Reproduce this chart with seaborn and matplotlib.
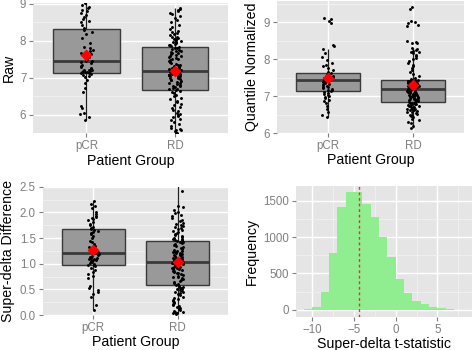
import numpy as np
import pandas as pd
import matplotlib
matplotlib.use("Agg")
import matplotlib.pyplot as plt
import seaborn as sns
from matplotlib.ticker import FixedLocator, FormatStrFormatter

# ---------------- data ----------------
groups = ["pCR", "RD"]

raw_pcr = [5.86, 5.95, 6.02, 6.05, 6.18, 6.25, 6.62, 6.72, 6.85, 6.95, 7.02, 7.06, 7.09, 7.11, 7.12, 7.13,
           7.15, 7.16, 7.17, 7.18, 7.19, 7.2, 7.21, 7.22, 7.24, 7.27, 7.3, 7.33, 7.36, 7.4, 7.44, 7.46,
           7.47, 7.52, 7.57, 7.6, 7.62, 7.65, 7.68, 7.72, 7.75, 7.8, 7.84, 7.95, 8.08, 8.2, 8.25, 8.3,
           8.35, 8.42, 8.5, 8.55, 8.6, 8.64, 8.7, 8.76, 8.8, 8.84, 8.88, 8.92, 8.96, 9.02, 9.1, 9.15]
raw_rd = [5.4, 5.5, 5.52, 5.55, 5.58, 5.6, 5.62, 5.65, 5.7, 5.75, 5.8, 5.85, 5.9, 5.93, 5.96, 6.0, 6.03,
          6.06, 6.1, 6.14, 6.18, 6.22, 6.26, 6.3, 6.34, 6.38, 6.42, 6.46, 6.5, 6.54, 6.58, 6.62, 6.65,
          6.67, 6.69, 6.71, 6.73, 6.75, 6.77, 6.79, 6.81, 6.83, 6.85, 6.87, 6.89, 6.91, 6.93, 6.95, 6.97,
          6.99, 7.01, 7.02, 7.03, 7.04, 7.05, 7.06, 7.07, 7.08, 7.09, 7.1, 7.11, 7.12, 7.13, 7.14, 7.15, 7.17,
          7.18, 7.2, 7.22, 7.24, 7.26, 7.28, 7.3, 7.32, 7.34, 7.36, 7.38, 7.4, 7.42, 7.44, 7.46, 7.48, 7.5,
          7.52, 7.54, 7.56, 7.58, 7.6, 7.62, 7.64, 7.66, 7.68, 7.7, 7.72, 7.74, 7.76, 7.78, 7.8, 7.82,
          7.84, 7.86, 7.88, 7.9, 7.92, 7.94, 7.96, 7.98, 8.0, 8.02, 8.04, 8.06, 8.08, 8.1, 8.12, 8.15, 8.18,
          8.21, 8.24, 8.28, 8.32, 8.38, 8.44, 8.5, 8.56, 8.62, 8.68, 8.72, 8.76, 8.8, 8.84, 8.86, 8.88]

qn_pcr = [6.44, 6.5, 6.58, 6.65, 6.72, 6.8, 6.86, 6.9, 6.94, 6.98, 7.0, 7.03, 7.06, 7.09, 7.11, 7.13,
          7.15, 7.17, 7.19, 7.21, 7.23, 7.25, 7.27, 7.29, 7.31, 7.33, 7.35, 7.37, 7.39, 7.4, 7.41, 7.43,
          7.44, 7.45, 7.46, 7.47, 7.48, 7.49, 7.5, 7.51, 7.52, 7.53, 7.54, 7.55, 7.56, 7.57, 7.59, 7.61,
          7.65, 7.7, 7.75, 7.8, 7.85, 7.9, 7.97, 8.05, 8.15, 8.26, 8.36, 8.38, 8.98, 9.02, 9.08, 9.12]
qn_rd = [6.14, 6.2, 6.26, 6.3, 6.34, 6.38, 6.42, 6.45, 6.48, 6.5, 6.52, 6.54, 6.56, 6.58, 6.6, 6.62, 6.63,
         6.64, 6.65, 6.66, 6.67, 6.68, 6.7, 6.71, 6.72, 6.74, 6.75, 6.76, 6.78, 6.79, 6.8, 6.81, 6.82,
         6.84, 6.85, 6.86, 6.87, 6.88, 6.89, 6.9, 6.91, 6.92, 6.93, 6.94, 6.95, 6.96, 6.97, 6.98, 6.99,
         7.0, 7.01, 7.02, 7.03, 7.04, 7.05, 7.06, 7.07, 7.08, 7.09, 7.1, 7.11, 7.12, 7.13, 7.14, 7.16, 7.18,
         7.19, 7.2, 7.21, 7.22, 7.23, 7.24, 7.25, 7.26, 7.27, 7.28, 7.29, 7.3, 7.31, 7.32, 7.33, 7.34,
         7.35, 7.36, 7.36, 7.37, 7.37, 7.38, 7.38, 7.39, 7.39, 7.4, 7.4, 7.4, 7.41, 7.41, 7.42, 7.42, 7.42,
         7.45, 7.5, 7.55, 7.6, 7.65, 7.7, 7.75, 7.8, 7.85, 7.9, 7.95, 8.0, 8.04, 8.08, 8.12, 8.15, 8.18,
         8.2, 8.22, 8.25, 8.28, 8.3, 8.42, 8.44, 8.46, 8.48, 8.88, 8.92, 8.96, 9.0, 9.02, 9.35, 9.4]

sd_pcr = [0.1, 0.2, 0.35, 0.4, 0.45, 0.48, 0.52, 0.56, 0.72, 0.76, 0.8, 0.84, 0.88, 0.92, 0.95, 0.97,
          0.98, 1.0, 1.02, 1.04, 1.06, 1.07, 1.08, 1.09, 1.1, 1.11, 1.12, 1.13, 1.15, 1.16, 1.18, 1.2,
          1.22, 1.25, 1.28, 1.32, 1.35, 1.38, 1.42, 1.45, 1.5, 1.54, 1.57, 1.6, 1.62, 1.64, 1.66, 1.68,
          1.7, 1.72, 1.75, 1.78, 1.82, 1.85, 1.87, 1.89, 1.91, 1.93, 1.96, 2.0, 2.08, 2.12, 2.16, 2.22]
sd_rd = [0.02, 0.03, 0.04, 0.05, 0.06, 0.08, 0.1, 0.12, 0.14, 0.16, 0.18, 0.2, 0.22, 0.24, 0.26, 0.28,
         0.3, 0.32, 0.34, 0.36, 0.38, 0.4, 0.42, 0.44, 0.45, 0.46, 0.48, 0.5, 0.51, 0.52, 0.53, 0.55, 0.56,
         0.58, 0.6, 0.62, 0.64, 0.66, 0.68, 0.7, 0.72, 0.74, 0.75, 0.76, 0.78, 0.8, 0.81, 0.82, 0.84, 0.85,
         0.86, 0.88, 0.89, 0.9, 0.91, 0.92, 0.93, 0.94, 0.95, 0.96, 0.97, 0.98, 0.99, 1.0, 1.01, 1.02,
         1.03, 1.04, 1.05, 1.06, 1.07, 1.08, 1.09, 1.1, 1.11, 1.12, 1.13, 1.14, 1.15, 1.16, 1.17, 1.18,
         1.19, 1.2, 1.21, 1.22, 1.23, 1.24, 1.25, 1.27, 1.29, 1.31, 1.33, 1.35, 1.37, 1.39, 1.41, 1.42, 1.43,
         1.45, 1.46, 1.47, 1.48, 1.49, 1.5, 1.52, 1.54, 1.56, 1.58, 1.6, 1.62, 1.64, 1.66, 1.68, 1.7, 1.72,
         1.74, 1.76, 1.78, 1.8, 1.83, 1.86, 1.89, 1.92, 1.95, 1.98, 2.01, 2.05, 2.1, 2.12, 2.41, 2.65]

hist_edges = [-11, -10, -9, -8, -7, -6, -5, -4, -3, -2, -1, 0, 1, 2, 3, 4, 5, 6, 7]
hist_counts = [9, 32, 240, 778, 1413, 1616, 1616, 1455, 1271, 1008, 723, 428, 230, 124, 74, 32, 18, 5]
tstat_center = -4.35

# ---------------- style ----------------
plt.rcParams['font.family'] = ['Liberation Sans', 'DejaVu Sans']
PANEL_BG = '#E5E5E5'
MINOR = '#F2F2F2'
TICK_GREY = '#7F7F7F'

fig = plt.figure(figsize=(4.72, 3.5), dpi=100)
W, H = 472.0, 350.0


def make_ax(x0, y0, x1, y1):
    return fig.add_axes([x0 / W, 1 - y1 / H, (x1 - x0) / W, (y1 - y0) / H])


def style(ax):
    ax.set_facecolor(PANEL_BG)
    for s in ax.spines.values():
        s.set_visible(False)
    ax.set_axisbelow(True)
    ax.grid(which='major', color='white', linewidth=1.0)
    ax.grid(which='minor', color=MINOR, linewidth=0.6)
    ax.tick_params(which='major', length=3, width=0.8, color=TICK_GREY,
                   labelcolor=TICK_GREY, labelsize=8.3, pad=2)
    ax.tick_params(which='minor', length=0)


def box_panel(ax, pcr, rd, ylabel, ylim, major, minor, seed):
    df = pd.DataFrame({
        'group': [groups[0]] * len(pcr) + [groups[1]] * len(rd),
        'value': list(pcr) + list(rd),
    })
    sns.boxplot(data=df, x='group', y='value', order=groups, width=0.75,
                color='#999999', saturation=1, linecolor='#3A3A3A', linewidth=1.0,
                showcaps=False, showfliers=False,
                medianprops={'linewidth': 2.0, 'color': '#3A3A3A'},
                whiskerprops={'color': '#222222', 'linewidth': 0.9},
                ax=ax, zorder=2)
    np.random.seed(seed)
    sns.stripplot(data=df, x='group', y='value', order=groups, jitter=0.07,
                  color='black', size=2.1, linewidth=0, ax=ax, zorder=3)
    sns.pointplot(data=df, x='group', y='value', order=groups, estimator='mean',
                  errorbar=None, color='red', markers='D', linestyle='none',
                  markersize=4, ax=ax, zorder=4)
    style(ax)
    ax.set_xlim(-0.6, 1.6)
    ax.set_ylim(*ylim)
    ax.yaxis.set_major_locator(FixedLocator(major))
    ax.yaxis.set_minor_locator(FixedLocator(minor))
    ax.set_xlabel('Patient Group', fontsize=10.2, labelpad=1)
    ax.set_ylabel(ylabel, fontsize=10.2, labelpad=3)


ax1 = make_ax(33.3, 2.7, 228.3, 133.3)
box_panel(ax1, raw_pcr, raw_rd, 'Raw', (5.5, 9.035), [6, 7, 8, 9], [5.5, 6.5, 7.5, 8.5], 1)

ax2 = make_ax(276.7, 1.3, 464.3, 133.0)
box_panel(ax2, qn_pcr, qn_rd, 'Quantile Normalized', (6.0, 9.56), [6, 7, 8, 9],
          [6.5, 7.5, 8.5, 9.5], 2)

ax3 = make_ax(42.7, 186.7, 228.3, 315.0)
box_panel(ax3, sd_pcr, sd_rd, 'Super-delta Difference', (0.0, 2.5),
          [0.0, 0.5, 1.0, 1.5, 2.0, 2.5], [0.25, 0.75, 1.25, 1.75, 2.25], 3)
ax3.yaxis.set_major_formatter(FormatStrFormatter('%.1f'))

ax4 = make_ax(296.0, 186.0, 472.0, 316.7)
centers = [(a + b) / 2 for a, b in zip(hist_edges[:-1], hist_edges[1:])]
sns.histplot(x=centers, weights=hist_counts, bins=hist_edges, color='#90EE90',
             alpha=1, linewidth=0, edgecolor='none', ax=ax4, zorder=2)
ax4.axvline(tstat_center, color='#E8302A', linestyle=(0, (2, 2)), linewidth=1.0, zorder=3)
style(ax4)
ax4.set_xlim(-11.95, 9.15)
ax4.set_ylim(-95, 1703)
ax4.xaxis.set_major_locator(FixedLocator([-10, -5, 0, 5]))
ax4.xaxis.set_minor_locator(FixedLocator([-7.5, -2.5, 2.5, 7.5]))
ax4.yaxis.set_major_locator(FixedLocator([0, 500, 1000, 1500]))
ax4.yaxis.set_minor_locator(FixedLocator([250, 750, 1250]))
ax4.set_xlabel('Super-delta t-statistic', fontsize=10.2, labelpad=1)
ax4.set_ylabel('Frequency', fontsize=10.2, labelpad=3)

fig.savefig('out.png', dpi=100)
